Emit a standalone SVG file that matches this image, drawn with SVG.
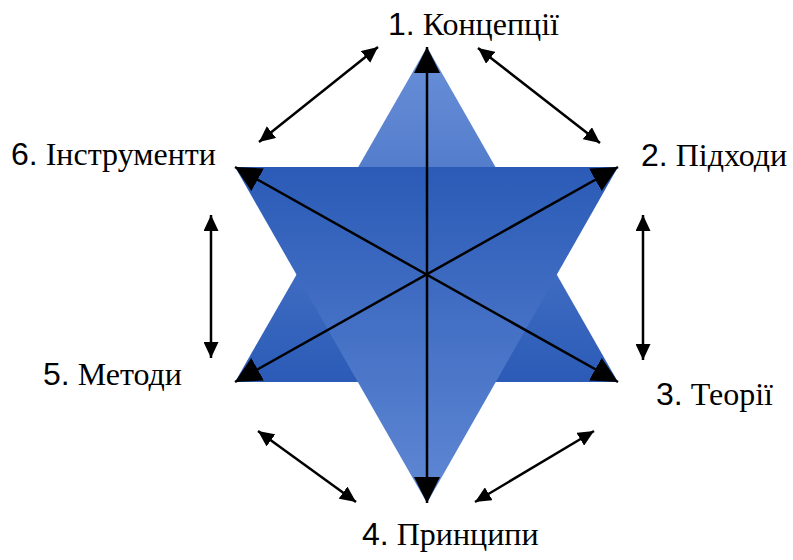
<svg xmlns="http://www.w3.org/2000/svg" width="793" height="560" viewBox="0 0 793 560">
<style>
.conn{stroke:#000;stroke-width:2.5;fill:none}
.big{marker-start:url(#bigHead);marker-end:url(#bigHead)}
.small{marker-start:url(#smallHead);marker-end:url(#smallHead)}
.lbl{font-family:"Liberation Serif","Times New Roman","DejaVu Serif",serif;font-size:32px;fill:#000}
.num{font-family:"Liberation Sans",Arial,sans-serif}
</style>
<defs>
<linearGradient id="gUp" gradientUnits="userSpaceOnUse" x1="0" y1="47" x2="0" y2="382">
<stop offset="0" stop-color="#6a90d8"/>
<stop offset="1" stop-color="#2b5bb7"/>
</linearGradient>
<linearGradient id="gDown" gradientUnits="userSpaceOnUse" x1="0" y1="167" x2="0" y2="503">
<stop offset="0" stop-color="#2b5bb7"/>
<stop offset="1" stop-color="#6088d4"/>
</linearGradient>
<marker id="bigHead" markerUnits="userSpaceOnUse" markerWidth="26" markerHeight="26" viewBox="0 0 26 26" refX="26" refY="13" orient="auto-start-reverse">
<path d="M0,0 L26,13 L0,26 z" fill="#000"/>
</marker>
<marker id="smallHead" markerUnits="userSpaceOnUse" markerWidth="16" markerHeight="15" viewBox="0 0 16 15" refX="16" refY="7.5" orient="auto-start-reverse">
<path d="M0,0 L16,7.5 L0,15 z" fill="#000"/>
</marker>
</defs>
<g id="star">
<polygon id="triangle-up" points="427,47 235,382 618,382" fill="url(#gUp)"/>
<polygon id="triangle-down" points="235,167 618,167 427,503" fill="url(#gDown)"/>
</g>
<g id="connectors">
<line class="conn big" x1="427" y1="47" x2="427" y2="503"/>
<line class="conn big" x1="235" y1="167" x2="618" y2="382"/>
<line class="conn big" x1="618" y1="167" x2="235" y2="382"/>
<line class="conn small" x1="259" y1="142" x2="378" y2="47"/>
<line class="conn small" x1="478" y1="48" x2="600" y2="143"/>
<line class="conn small" x1="211" y1="215" x2="211" y2="358"/>
<line class="conn small" x1="643" y1="215" x2="643" y2="360"/>
<line class="conn small" x1="258" y1="431" x2="356" y2="502"/>
<line class="conn small" x1="475" y1="502" x2="594" y2="431"/>
</g>
<g id="node-1"><text class="lbl" x="388" y="35"><tspan class="num">1.</tspan> Концепції</text></g>
<g id="node-2"><text class="lbl" x="641" y="166"><tspan class="num">2.</tspan> Підходи</text></g>
<g id="node-3"><text class="lbl" x="656" y="405"><tspan class="num">3.</tspan> Теорії</text></g>
<g id="node-4"><text class="lbl" x="362" y="545"><tspan class="num">4.</tspan> Принципи</text></g>
<g id="node-5"><text class="lbl" x="43" y="385"><tspan class="num">5.</tspan> Методи</text></g>
<g id="node-6"><text class="lbl" x="11" y="165"><tspan class="num">6.</tspan> Інструменти</text></g>
</svg>
